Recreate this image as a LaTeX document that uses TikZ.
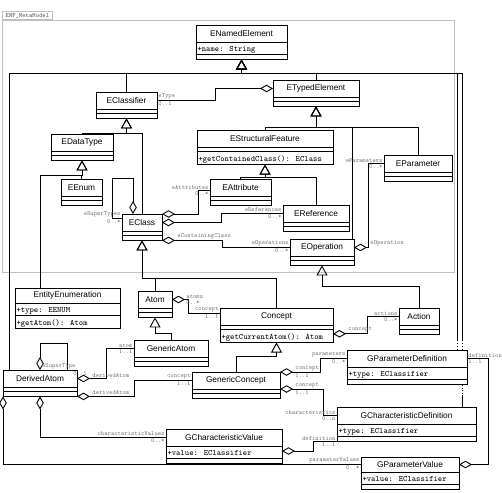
\documentclass[tikz,border=0pt]{standalone}
\usepackage{fontspec}
\setsansfont{Liberation Sans}
\usepackage{tikz}
\usetikzlibrary{shapes.multipart, arrows.meta, positioning}
\newcommand{\clsattr}[1]{\rule[-3pt]{0pt}{12pt}#1}
\newcommand{\clsnone}{\hspace*{0.1pt}\rule{0pt}{3.8pt}}
\tikzstyle{cls} = [draw, fill=white, line width=0.9pt, anchor=north west, minimum height=17pt, inner sep=0pt, outer sep=0pt, font=\fontsize{8.3}{10}\selectfont\sffamily]
\tikzstyle{body} = [rectangle split, rectangle split parts=2, rectangle split part align={left,left}, draw, fill=white, line width=0.9pt, inner xsep=1.5pt, inner ysep=0pt, outer sep=0pt, font=\fontsize{8.2}{9.5}\selectfont\ttfamily]
\tikzstyle{lbl} = [font=\fontsize{6.3}{7}\selectfont\ttfamily, text=black!55, inner sep=1pt]
\tikzstyle{inherit} = [line width=0.9pt, -{Triangle[open, length=10pt, width=11pt]}]
\tikzstyle{aggr} = [line width=0.9pt, {Diamond[open, length=13pt, width=7.5pt]}-]
\tikzstyle{pkgframe} = [draw=black!25, line width=0.8pt]

\begin{document}
\begin{tikzpicture}[x=1pt, y=-1pt]
\useasboundingbox (0,0) rectangle (502,492);

% package
\draw [pkgframe] (2,20) rectangle (454,272);
\node (pkg) [pkgframe, anchor=south west, minimum width=50pt, minimum height=8pt, inner sep=1pt, font=\fontsize{6.3}{7}\selectfont\ttfamily, text=black!70] at (2,20) {EMF\_MetaModel};

% classes
\node (enamed) [cls, minimum width=91pt] at (196,25) {ENamedElement};
\node (enamed-b) [body, minimum width=91pt, below=0pt of enamed] {\clsattr{+name: String}\nodepart{two}\clsnone};
\node (etyped) [cls, minimum width=86pt] at (273,80) {ETypedElement};
\node (etyped-b) [body, minimum width=86pt, below=0pt of etyped] {\clsnone\nodepart{two}\clsnone};
\node (eclassifier) [cls, minimum width=61pt] at (96,92) {EClassifier};
\node (eclassifier-b) [body, minimum width=61pt, below=0pt of eclassifier] {\clsnone\nodepart{two}\clsnone};
\node (edatatype) [cls, minimum width=62pt] at (51,134) {EDataType};
\node (edatatype-b) [body, minimum width=62pt, below=0pt of edatatype] {\clsnone\nodepart{two}\clsnone};
\node (estruct) [cls, minimum width=136pt] at (197,130) {EStructuralFeature};
\node (estruct-b) [body, minimum width=136pt, below=0pt of estruct] {\clsnone\nodepart{two}\clsattr{+getContainedClass(): EClass}};
\node (eparameter) [cls, minimum width=68pt] at (384,155) {EParameter};
\node (eparameter-b) [body, minimum width=68pt, below=0pt of eparameter] {\clsnone\nodepart{two}\clsnone};
\node (eenum) [cls, minimum width=41pt] at (61,179) {EEnum};
\node (eenum-b) [body, minimum width=41pt, below=0pt of eenum] {\clsnone\nodepart{two}\clsnone};
\node (eattribute) [cls, minimum width=61pt] at (210,179) {EAttribute};
\node (eattribute-b) [body, minimum width=61pt, below=0pt of eattribute] {\clsnone\nodepart{two}\clsnone};
\node (ereference) [cls, minimum width=66pt] at (283,205) {EReference};
\node (ereference-b) [body, minimum width=66pt, below=0pt of ereference] {\clsnone\nodepart{two}\clsnone};
\node (eclass) [cls, minimum width=40pt] at (122,214) {EClass};
\node (eclass-b) [body, minimum width=40pt, below=0pt of eclass] {\clsnone\nodepart{two}\clsnone};
\node (eoperation) [cls, minimum width=64pt] at (290,239) {EOperation};
\node (eoperation-b) [body, minimum width=64pt, below=0pt of eoperation] {\clsnone\nodepart{two}\clsnone};
\node (entityenum) [cls, minimum width=105pt, minimum height=15pt] at (15,288) {EntityEnumeration};
\node (entityenum-b) [body, minimum width=105pt, below=0pt of entityenum] {\clsattr{+type: EENUM}\nodepart{two}\clsattr{+getAtom(): Atom}};
\node (atom) [cls, minimum width=34pt] at (138,291) {Atom};
\node (atom-b) [body, minimum width=34pt, below=0pt of atom] {\clsnone\nodepart{two}\clsnone};
\node (concept) [cls, minimum width=113pt] at (220,308) {Concept};
\node (concept-b) [body, minimum width=113pt, below=0pt of concept] {\clsnone\nodepart{two}\clsattr{+getCurrentAtom(): Atom}};
\node (action) [cls, minimum width=40pt] at (399,308) {Action};
\node (action-b) [body, minimum width=40pt, below=0pt of action] {\clsnone\nodepart{two}\clsnone};
\node (genericatom) [cls, minimum width=74pt] at (134,340) {GenericAtom};
\node (genericatom-b) [body, minimum width=74pt, below=0pt of genericatom] {\clsnone\nodepart{two}\clsnone};
\node (derivedatom) [cls, minimum width=74pt] at (3,370) {DerivedAtom};
\node (derivedatom-b) [body, minimum width=74pt, below=0pt of derivedatom] {\clsnone\nodepart{two}\clsnone};
\node (genericconcept) [cls, minimum width=88pt] at (192,372) {GenericConcept};
\node (genericconcept-b) [body, minimum width=88pt, below=0pt of genericconcept] {\clsnone\nodepart{two}\clsnone};
\node (gparamdef) [cls, minimum width=120pt] at (347,350) {GParameterDefinition};
\node (gparamdef-b) [body, minimum width=120pt, below=0pt of gparamdef] {\clsattr{+type: EClassifier}\nodepart{two}\clsnone};
\node (gchardef) [cls, minimum width=139pt] at (337,407) {GCharacteristicDefinition};
\node (gchardef-b) [body, minimum width=139pt, below=0pt of gchardef] {\clsattr{+type: EClassifier}\nodepart{two}\clsnone};
\node (gcharval) [cls, minimum width=116pt] at (166,429) {GCharacteristicValue};
\node (gcharval-b) [body, minimum width=116pt, below=0pt of gcharval] {\clsattr{+value: EClassifier}\nodepart{two}\clsnone};
\node (gparamval) [cls, minimum width=98pt, minimum height=15pt] at (361,457) {GParameterValue};
\node (gparamval-b) [body, minimum width=98pt, below=0pt of gparamval] {\clsattr{+value: EClassifier}\nodepart{two}\clsnone};

% generalization buses
\coordinate (nebus) at ([yshift=-14pt]enamed-b.south);
\coordinate (tebus) at ([yshift=-21pt]etyped-b.south);
\coordinate (clbus) at ([yshift=-15pt]eclassifier-b.south);
\coordinate (dtbus) at ([yshift=-15pt]edatatype-b.south);
\coordinate (sfbus) at ([yshift=-13pt]estruct-b.south);
\coordinate (ecbus) at ([yshift=-38pt]eclass-b.south);
\coordinate (eobus) at ([yshift=-21pt]eoperation-b.south);
\coordinate (atbus) at ([yshift=-16pt]atom-b.south);
\coordinate (cobus) at ([yshift=-14pt]concept-b.south);

\draw [inherit] (eclassifier.north) |- (nebus) -| (enamed-b.south);
\draw [inherit] (etyped.north) |- (nebus) -| (enamed-b.south);
\draw [inherit] ([xshift=6pt]derivedatom.north west) |- (nebus) -| (enamed-b.south);
\draw [inherit] ([xshift=-10pt,yshift=10pt]gparamdef.north east) |- (nebus) -| (enamed-b.south);
\draw [inherit] ([xshift=-5pt,yshift=10pt]gparamdef.north east) |- (nebus) -| (enamed-b.south);
\draw [dotted, line width=0.9pt] ([xshift=-10pt]gparamdef.north east) -- ++(0,-10);
\draw [dotted, line width=0.9pt] ([xshift=-5pt]gparamdef.north east) -- ++(0,-10);
\draw [dotted, line width=0.9pt] ([xshift=-5pt]gparamdef-b.south east) -- ++(0,12);
\draw [line width=0.9pt] ([xshift=-14pt]gchardef.north east) -- ++(0,-12);

\draw [inherit] (estruct.north) |- (tebus) -| (etyped-b.south);
\draw [inherit] ([xshift=-2pt]eoperation.north east) |- (tebus) -| (etyped-b.south);
\draw [inherit] (eparameter.north) |- (tebus) -| (etyped-b.south);

\draw [inherit] (edatatype.north) |- (clbus) -| (eclassifier-b.south);
\draw [inherit] (eclass.north) |- (clbus) -| (eclassifier-b.south);
\draw [inherit] (eenum.north) |- (dtbus) -| (edatatype-b.south);
\draw [inherit] ([xshift=25pt]entityenum.north west) |- (dtbus) -| (edatatype-b.south);
\draw [inherit] (eattribute.north) |- (sfbus) -| (estruct-b.south);
\draw [inherit] (ereference.north) |- (sfbus) -| (estruct-b.south);
\draw [inherit] (atom.north) |- (ecbus) -| (eclass-b.south);
\draw [inherit] (concept.north) |- (ecbus) -| (eclass-b.south);
\draw [inherit] (action.north) |- (eobus) -| (eoperation-b.south);
\draw [inherit] (genericatom.north) |- (atbus) -| (atom-b.south);
\draw [inherit] (genericconcept.north) |- (cobus) -| (concept-b.south);

% associations
\draw [aggr] (etyped.west) -- ++(-58,0) |- (eclassifier.east) node [lbl, anchor=south west] {eType} node [lbl, anchor=north west] {0..1};
\draw [aggr] ([xshift=-9pt]eclass.north) -- ++(0,-36) -| ([xshift=-10pt,yshift=4pt]eclass.west) -- ([yshift=4pt]eclass.west) node [lbl, anchor=south east] {eSuperTypes} node [lbl, anchor=north east] {0..*};
\draw [aggr] (eclass.north east) -- ++(36,0) |- ([yshift=-3pt]eattribute.west) node [lbl, anchor=south east] {eAttributes} node [lbl, anchor=north east] {0..*};
\draw [aggr] (eclass.east) -- ++(59,0) |- (ereference.west) node [lbl, anchor=south east] {eReferences} node [lbl, anchor=north east] {0..*};
\draw [aggr] (eclass-b.south east) node [lbl, anchor=south west, xshift=14pt] {eContainingClass} -- ++(60,0) |- (eoperation.west) node [lbl, anchor=south east] {eOperations} node [lbl, anchor=north east] {0..*};
\draw [aggr] (eoperation.east) node [lbl, anchor=south west, xshift=15pt] {eOperation} -- ++(14,0) |- (eparameter.west) node [lbl, anchor=south east] {eParameters} node [lbl, anchor=north east] {0..*};

\draw [aggr] (atom.east) node [lbl, anchor=south west, xshift=13pt] {atoms} node [lbl, anchor=north west, xshift=13pt] {0..*} -- ++(16,0) |- ([yshift=3pt]concept.west) node [lbl, anchor=south east] {concept} node [lbl, anchor=north east] {1..1};
\draw [aggr] (concept-b.east) node [lbl, anchor=south west, xshift=14pt] {concept} -- ++(34,0) |- (action.west) node [lbl, anchor=south east] {actions} node [lbl, anchor=north east] {0..*};

\draw [aggr] (derivedatom.north) -- ++(0,-27) -| ([xshift=27pt]derivedatom.north) node [lbl, anchor=south east, xshift=10pt] {eSuperType} node [lbl, anchor=north west, xshift=5pt] {0..1};
\draw [aggr] (derivedatom.east) node [lbl, anchor=south west, xshift=14pt] {derivedAtom} -- ++(29,0) |- (genericatom.west) node [lbl, anchor=south east] {atom} node [lbl, anchor=north east] {1..1};
\draw [aggr] (derivedatom-b.south east) node [lbl, anchor=south west, xshift=14pt] {derivedAtom} -- ++(57,0) |- (genericconcept.west) node [lbl, anchor=south east] {concept} node [lbl, anchor=north east] {1..1};
\draw [aggr] (derivedatom-b.south) |- (gcharval.west) node [lbl, anchor=south east] {characteristicValues} node [lbl, anchor=north east] {0..*};
\draw [aggr] (derivedatom-b.south west) |- (gparamval.west) node [lbl, anchor=south east] {parameterValues} node [lbl, anchor=north east] {0..*};

\draw [aggr] (genericconcept.north east) node [lbl, anchor=south west, xshift=14pt] {concept} node [lbl, anchor=north west, xshift=14pt] {1..1} -- ++(40,0) |- (gparamdef.west) node [lbl, anchor=south east] {parameters} node [lbl, anchor=north east] {0..*};
\draw [aggr] (genericconcept.south east) node [lbl, anchor=south west, xshift=14pt] {concept} node [lbl, anchor=north west, xshift=14pt] {1..1} -- ++(43,0) |- (gchardef.west) node [lbl, anchor=south east] {characteristics} node [lbl, anchor=north east] {0..n};
\draw [aggr] ([yshift=-5pt]gcharval-b.north east) -- ++(31,0) |- (gchardef-b.south west) node [lbl, anchor=south east] {definition} node [lbl, anchor=north east] {1..1};
\draw [aggr] (gparamval.east) -- ++(29,0) |- (gparamdef.east) node [lbl, anchor=south west] {definition} node [lbl, anchor=north west] {1..1};

\end{tikzpicture}
\end{document}
